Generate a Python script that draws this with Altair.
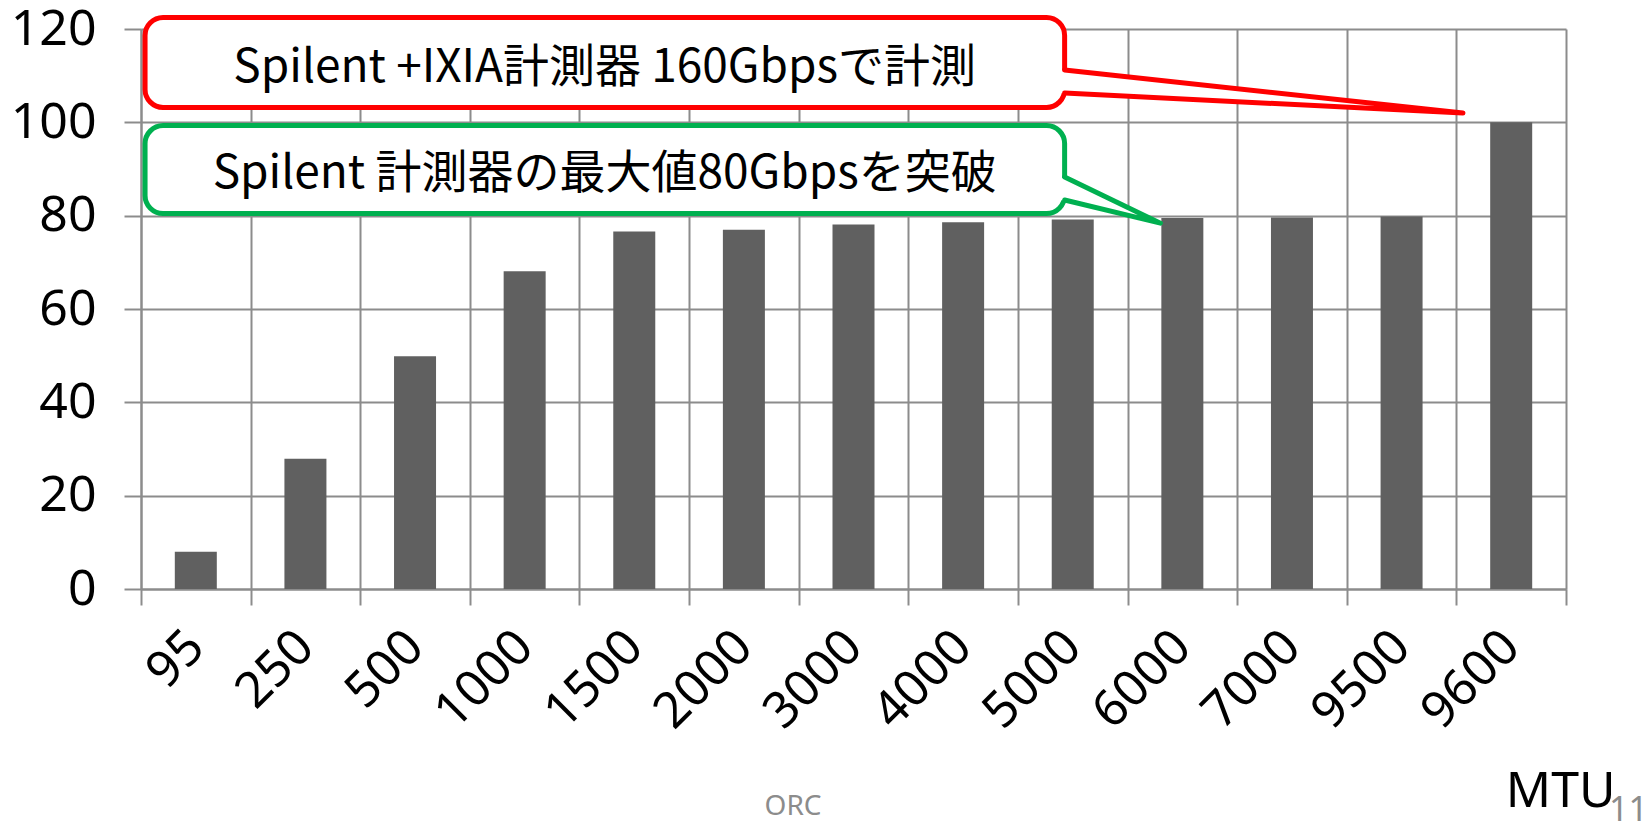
import altair as alt
import pandas as pd

# ---- data ----
mtu = ["95", "250", "500", "1000", "1500", "2000", "3000", "4000", "5000", "6000", "7000", "9500", "9600"]
gbps = [8.0, 27.9, 49.9, 68.1, 76.6, 77.0, 78.1, 78.6, 79.2, 79.5, 79.6, 79.8, 100.0]
y_ticks = [0, 20, 40, 60, 80, 100, 120]

note_texts = ["Spilent +IXIA計測器 160Gbpsで計測", "Spilent 計測器の最大値80Gbpsを突破"]
note_colors = ["#ff0000", "#00b050"]
# callout geometry in data units (x: category index 0..13, y: Gbps)
box_x0 = [0.037, 0.037]
box_x1 = [8.426, 8.426]
box_y0 = [103.2, 80.46]
box_y1 = [122.46, 99.3]
text_x = [4.23, 4.23]
text_y = [111.6, 88.9]
ptr_hi = [111.2, 88.3]
ptr_lo = [106.3, 83.35]
ptr_tip_x = [12.06, 9.30]
ptr_tip_y = [102.0, 78.4]

W, H = 1425, 560
GRID = "#8c8c8c"
FONT = "Liberation Sans Narrow, Noto Sans, sans-serif"
CJK = "Noto Sans CJK JP"

df = pd.DataFrame({"mtu": mtu, "gbps": gbps})
yscale = alt.Scale(domain=[0, 120], nice=False, zero=True)
xq = alt.Scale(domain=[0, 13], nice=False, zero=False)

bars = alt.Chart(df).mark_bar(size=42, color="#606060").encode(
    x=alt.X("mtu:N", sort=mtu,
            scale=alt.Scale(paddingInner=0, paddingOuter=0),
            axis=alt.Axis(tickBand="extent", labelAngle=-45, labelAlign="right",
                          labelBaseline="middle", labelFont=FONT, labelFontSize=50,
                          labelColor="black", labelPadding=34, tickSize=16,
                          tickColor=GRID, tickWidth=2, grid=True, gridColor=GRID,
                          gridWidth=2, domainColor=GRID, domainWidth=2,
                          title="MTU", titleX=1474, titleY=217, titleAlign="right",
                          titleBaseline="alphabetic", titleFont=FONT, titleFontSize=50,
                          titleFontWeight="normal", titleColor="black")),
    y=alt.Y("gbps:Q", scale=yscale,
            axis=alt.Axis(values=y_ticks, tickSize=17, tickColor=GRID, tickWidth=2,
                          grid=True, gridColor=GRID, gridWidth=2, domainColor=GRID,
                          domainWidth=2, labelFont=FONT, labelFontSize=50,
                          labelColor="black", labelPadding=28, title=None)),
)

notes = pd.DataFrame({"text": note_texts, "color": note_colors,
                      "x0": box_x0, "x1": box_x1, "y0": box_y0, "y1": box_y1,
                      "tx": text_x, "ty": text_y})

boxes = alt.Chart(notes).mark_rect(cornerRadius=18, fill="white", strokeWidth=5).encode(
    x=alt.X("x0:Q", scale=xq, axis=None), x2="x1:Q",
    y=alt.Y("y0:Q", scale=yscale, axis=None), y2="y1:Q",
    stroke=alt.Stroke("color:N", scale=None),
)

fill_rows, line_rows = [], []
for i in range(len(note_texts)):
    fill_rows.append({"n": i, "x": box_x1[i] - 0.035, "y": ptr_hi[i], "y2": ptr_lo[i]})
    fill_rows.append({"n": i, "x": ptr_tip_x[i], "y": ptr_tip_y[i], "y2": ptr_tip_y[i]})
    line_rows.append({"n": i, "o": 0, "x": box_x1[i], "y": ptr_hi[i], "c": note_colors[i]})
    line_rows.append({"n": i, "o": 1, "x": ptr_tip_x[i], "y": ptr_tip_y[i], "c": note_colors[i]})
    line_rows.append({"n": i, "o": 2, "x": box_x1[i], "y": ptr_lo[i], "c": note_colors[i]})

wedge_fill = alt.Chart(pd.DataFrame(fill_rows)).mark_area(color="white", opacity=1).encode(
    x=alt.X("x:Q", scale=xq, axis=None),
    y=alt.Y("y:Q", scale=yscale, axis=None), y2="y2:Q",
    detail="n:N",
)

wedge_lines = alt.Chart(pd.DataFrame(line_rows)).mark_line(
    strokeWidth=5, strokeCap="round", strokeJoin="round").encode(
    x=alt.X("x:Q", scale=xq, axis=None),
    y=alt.Y("y:Q", scale=yscale, axis=None),
    order="o:Q", detail="n:N",
    color=alt.Color("c:N", scale=None),
)

note_text = alt.Chart(notes).mark_text(font=CJK, fontSize=46, align="center",
                                       baseline="middle", color="black").encode(
    x=alt.X("tx:Q", scale=xq, axis=None),
    y=alt.Y("ty:Q", scale=yscale, axis=None),
    text="text:N",
)

footer = alt.Chart(pd.DataFrame({"t": ["ORC"]})).mark_text(
    font="Noto Sans", fontSize=28, color="#8c8c8c", align="center",
    baseline="alphabetic").encode(x=alt.value(652), y=alt.value(786), text="t:N")
page = alt.Chart(pd.DataFrame({"t": ["11"]})).mark_text(
    font="Noto Sans", fontSize=34, color="#8c8c8c", align="left",
    baseline="alphabetic").encode(x=alt.value(1468), y=alt.value(792), text="t:N")

chart = alt.layer(bars, boxes, wedge_fill, wedge_lines, note_text, footer, page).resolve_scale(
    x="independent", y="independent"
).properties(
    width=W, height=H,
    padding={"left": 141, "top": 29, "right": 76, "bottom": 233},
    autosize="none", background="white",
).configure_view(stroke=None)

chart.save("out.html", embed_options={"renderer": "svg", "actions": False})
